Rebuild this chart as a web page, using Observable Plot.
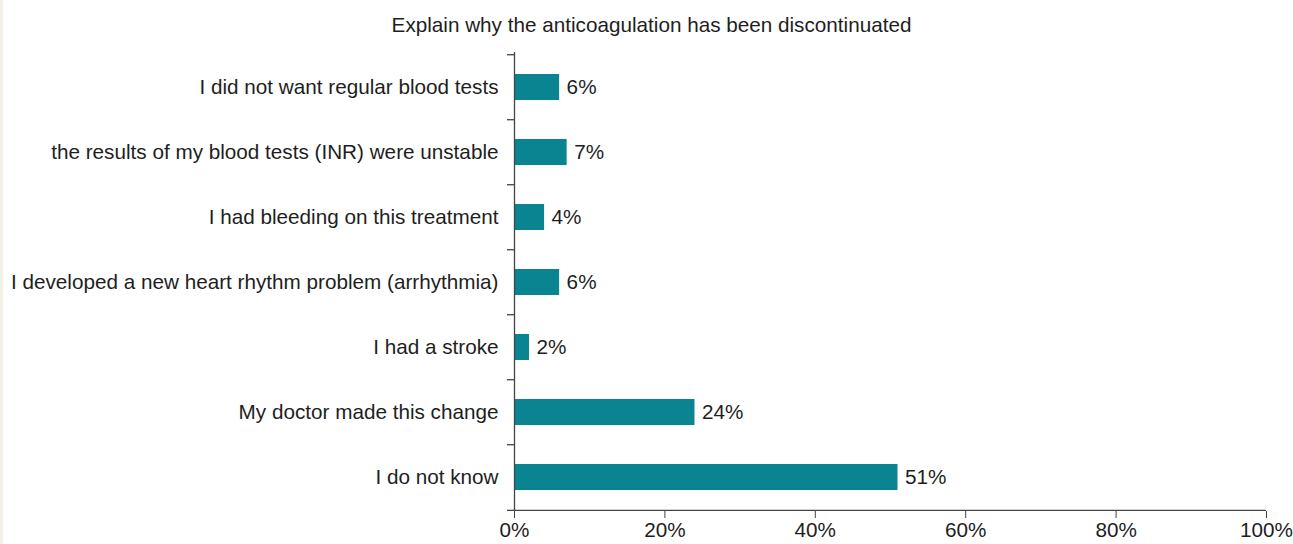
<!DOCTYPE html>
<html>
<head>
<meta charset="utf-8">
<script src="https://cdn.jsdelivr.net/npm/d3@7"></script>
<script src="https://cdn.jsdelivr.net/npm/@observablehq/plot@0.6"></script>
<style>
  html, body { margin: 0; padding: 0; background: #ffffff; }
  body { width: 1293px; height: 544px; overflow: hidden; position: relative; }
  #strip { position: absolute; left: 0; top: 0; width: 3px; height: 544px; background: #f3f1e5; }
  #chart { position: absolute; left: 0; top: 0; }
</style>
</head>
<body>
<div id="strip"></div>
<div id="chart"></div>
<script>
const title = "Explain why the anticoagulation has been discontinuated";
const categories = [
  "I did not want regular blood tests",
  "the results of my blood tests (INR) were unstable",
  "I had bleeding on this treatment",
  "I developed a new heart rhythm problem (arrhythmia)",
  "I had a stroke",
  "My doctor made this change",
  "I do not know"
];
const values = [6, 7, 4, 6, 2, 24, 51];
const xTicks = [0, 20, 40, 60, 80, 100];

const data = categories.map((c, i) => ({category: c, value: values[i]}));

const W = 1293, H = 544;
const mTop = 52, mBottom = 33, mLeft = 514, mRight = 27;
const step = (H - mTop - mBottom) / categories.length;
const font = "Liberation Sans, Arial, Helvetica, sans-serif";
const fs = 20.7;
const ink = "#1e1e1e";
const axisColor = "#444";

const chart = Plot.plot({
  width: W,
  height: H,
  marginTop: mTop,
  marginBottom: mBottom,
  marginLeft: mLeft,
  marginRight: mRight,
  style: {fontFamily: font, fontSize: fs + "px", color: ink, background: "transparent"},
  x: {domain: [0, 100], ticks: xTicks, tickFormat: d => d + "%", label: null},
  y: {domain: categories, paddingInner: 0.6, paddingOuter: 0.3, label: null},
  marks: [
    Plot.barX(data, {x: "value", y: "category", fill: "#0b8491"}),
    Plot.text(data, {x: "value", y: "category", text: d => d.value + "%", dx: 7, textAnchor: "start", fill: ink, fontSize: fs}),
    // y axis line
    Plot.ruleX([0], {stroke: axisColor, strokeWidth: 1.3}),
    // band boundary ticks (top of each band)
    Plot.ruleY(categories, {y: d => d, x1: 0, x2: 0, insetLeft: -7, dy: -step / 2, stroke: axisColor, strokeWidth: 1.3}),
    // bottom boundary = x axis line
    Plot.ruleY([categories[categories.length - 1]], {y: d => d, x1: 0, x2: 100, insetLeft: -7, dy: step / 2, stroke: axisColor, strokeWidth: 1.3}),
    Plot.axisX({ticks: xTicks, tickFormat: d => d + "%", tickSize: 7, tickPadding: 4, stroke: axisColor, fill: ink, fontSize: fs, label: null}),
    Plot.axisY({tickSize: 0, tickPadding: 16, fill: ink, fontSize: fs, label: null}),
    Plot.text([title], {frameAnchor: "top-left", lineAnchor: "middle", textAnchor: "middle", dx: 651 - mLeft, dy: -27, fontSize: fs, fill: ink, text: d => d})
  ]
});
document.getElementById("chart").appendChild(chart);
</script>
</body>
</html>
